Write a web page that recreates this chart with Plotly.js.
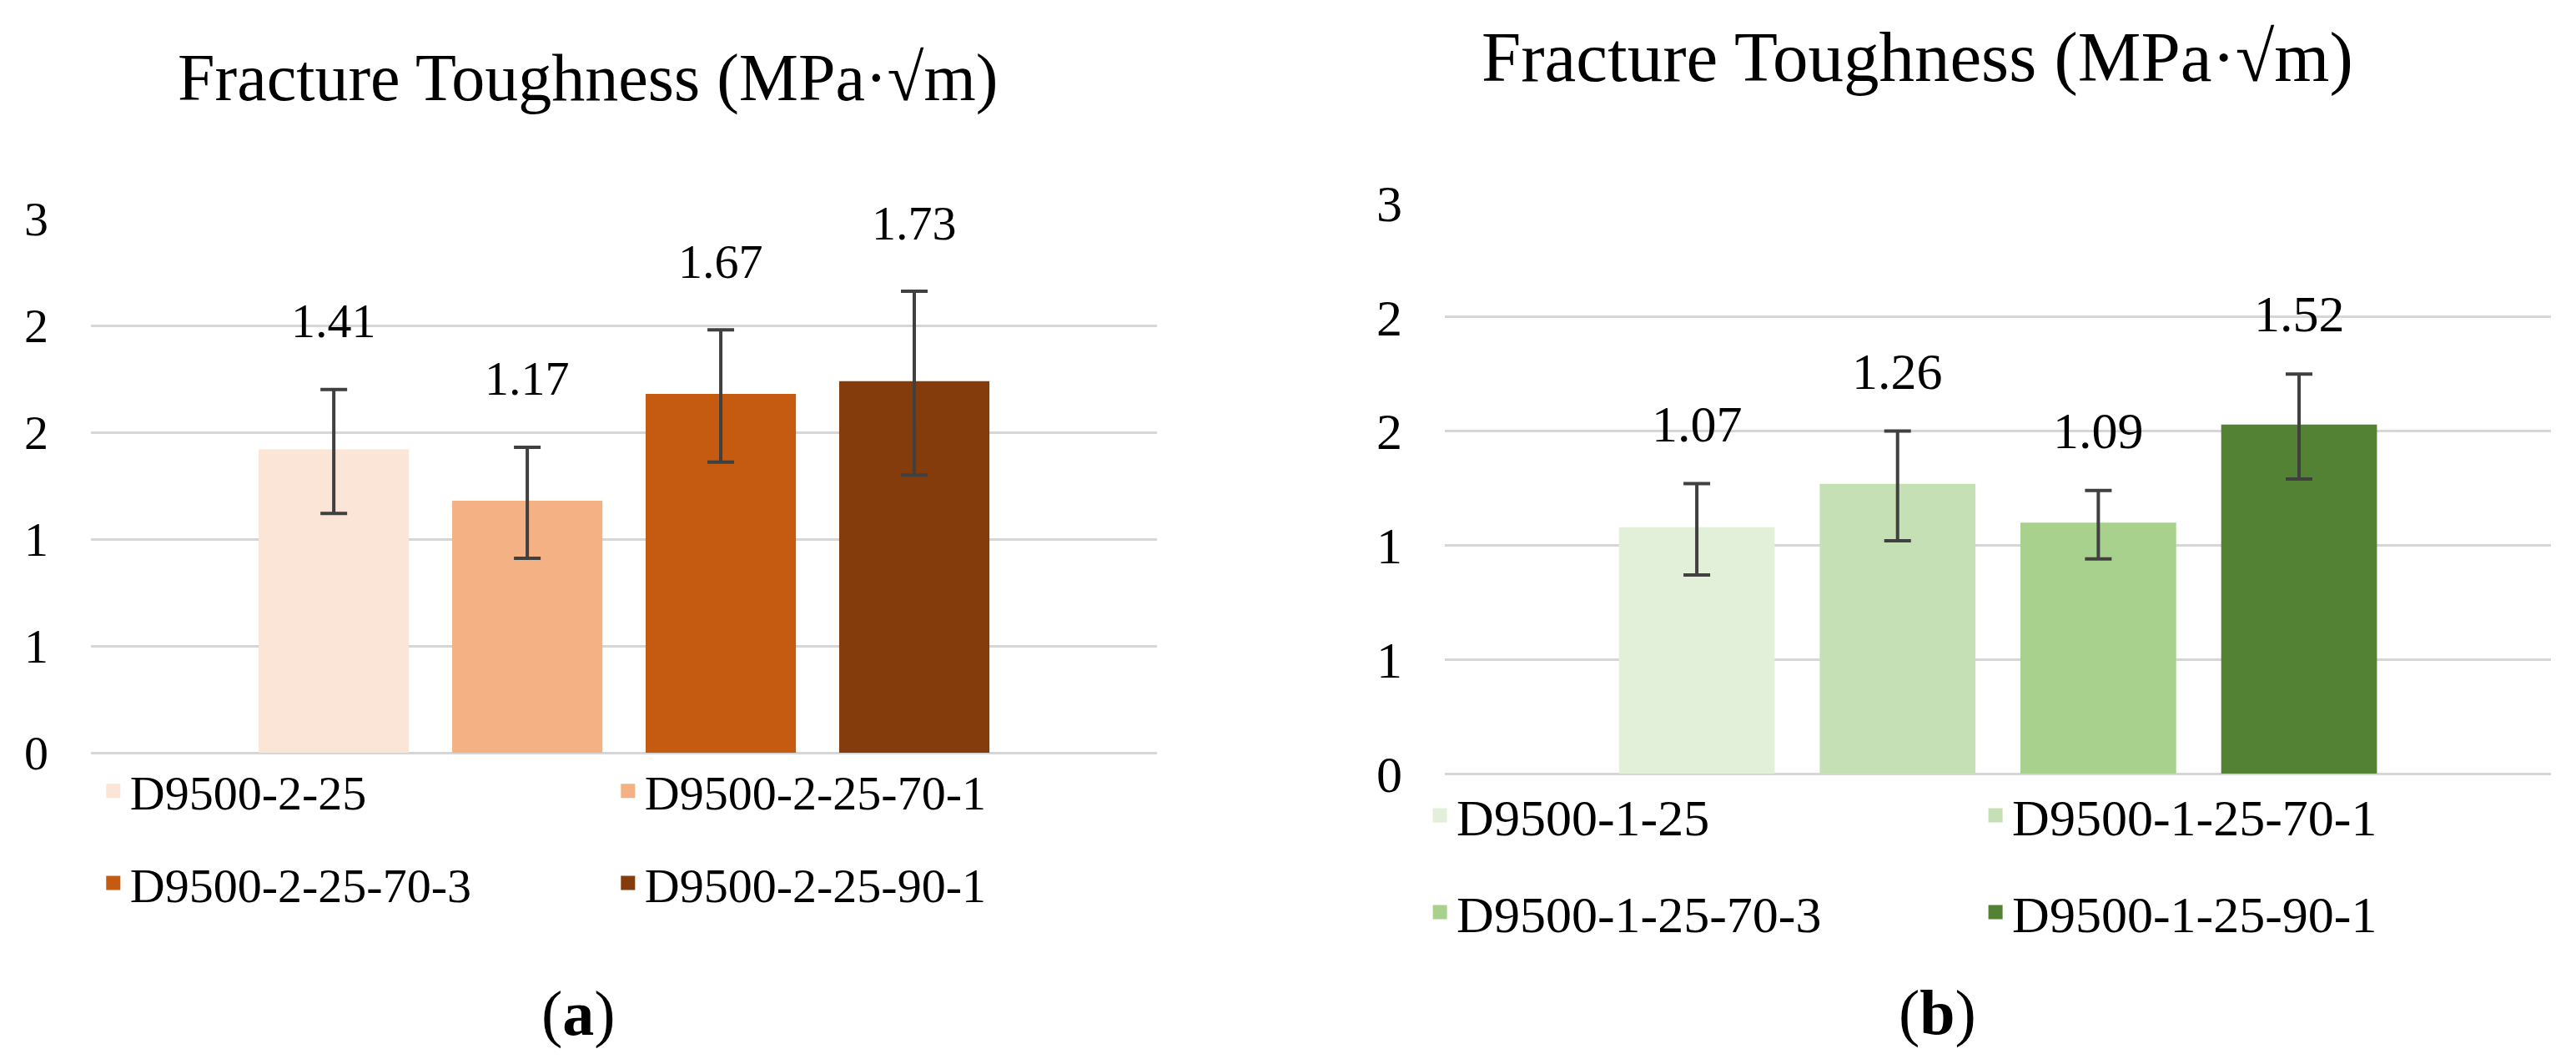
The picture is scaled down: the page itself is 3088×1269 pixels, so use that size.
<!DOCTYPE html>
<html>
<head>
<meta charset="utf-8">
<script src="https://cdn.plot.ly/plotly-3.0.1.min.js"></script>
<style>
  html, body { margin: 0; padding: 0; background: #ffffff; }
  #chart { width: 3088px; height: 1269px; }
</style>
</head>
<body>
<div id="chart"></div>
<script>
// ---------- data ----------
const seriesA = ['D9500-2-25', 'D9500-2-25-70-1', 'D9500-2-25-70-3', 'D9500-2-25-90-1'];
const valuesA = [1.41, 1.17, 1.67, 1.73];
const errorsA = [0.29, 0.26, 0.31, 0.43];

const seriesB = ['D9500-1-25', 'D9500-1-25-70-1', 'D9500-1-25-70-3', 'D9500-1-25-90-1'];
const valuesB = [1.07, 1.26, 1.09, 1.52];
const errorsB = [0.20, 0.24, 0.15, 0.23];

const yTickVals = [0, 0.5, 1, 1.5, 2, 2.5];
const yTickText = ['0', '1', '1', '2', '2', '3'];

const chartTitle = 'Fracture Toughness (MPa·√m)';
const panelLabels = ['(<b>a</b>)', '(<b>b</b>)'];

// ---------- styles ----------
const colorsA = ['#fbe5d6', '#f4b183', '#c55a11', '#843c0c'];
const colorsB = ['#e2f0d9', '#c5e0b4', '#a9d18e', '#548235'];
const FONT = "'Liberation Serif', 'Times New Roman', Times, serif";
const errColor = '#404040';

function makeTraces(series, values, errors, colors, xa, ya, legendRows) {
  return series.map((name, i) => ({
    type: 'bar',
    name: name,
    x: [name],
    y: [values[i]],
    xaxis: xa,
    yaxis: ya,
    legend: legendRows[Math.floor(i / 2)],
    marker: { color: colors[i], line: { color: colors[i], width: 5 } },
    error_y: { type: 'data', array: [errors[i]], visible: true, color: errColor, thickness: 4, width: 16 },
    hoverinfo: 'x+y'
  }));
}

const traces = [].concat(
  makeTraces(seriesA, valuesA, errorsA, colorsA, 'x', 'y', ['legend', 'legend2']),
  makeTraces(seriesB, valuesB, errorsB, colorsB, 'x2', 'y2', ['legend3', 'legend4'])
);

// value labels above error bars
const annotations = [];
seriesA.forEach((name, i) => annotations.push({
  x: name, y: valuesA[i] + errorsA[i], xref: 'x', yref: 'y',
  text: valuesA[i].toFixed(2), showarrow: false, yanchor: 'middle', yshift: 82,
  font: { family: FONT, size: 58, color: '#000' }
}));
seriesB.forEach((name, i) => annotations.push({
  x: name, y: valuesB[i] + errorsB[i], xref: 'x2', yref: 'y2',
  text: valuesB[i].toFixed(2), showarrow: false, yanchor: 'middle', yshift: 72,
  font: { family: FONT, size: 62, color: '#000' }
}));
// panel titles
annotations.push({ text: chartTitle, xref: 'paper', yref: 'paper', x: 0.2283, y: 0.9267,
  showarrow: false, xanchor: 'center', yanchor: 'middle', font: { family: FONT, size: 80, color: '#000' } });
annotations.push({ text: chartTitle, xref: 'paper', yref: 'paper', x: 0.7442, y: 0.9464,
  showarrow: false, xanchor: 'center', yanchor: 'middle', font: { family: FONT, size: 85, color: '#000' } });
// (a) / (b)
annotations.push({ text: panelLabels[0], xref: 'paper', yref: 'paper', x: 0.2245, y: 0.0426,
  showarrow: false, xanchor: 'center', yanchor: 'middle', font: { family: FONT, size: 76, color: '#000' } });
annotations.push({ text: panelLabels[1], xref: 'paper', yref: 'paper', x: 0.752, y: 0.0441,
  showarrow: false, xanchor: 'center', yanchor: 'middle', font: { family: FONT, size: 76, color: '#000' } });

function yAxis(domain, size, anchor) {
  return {
    domain: domain, anchor: anchor, range: [0, 2.5],
    tickmode: 'array', tickvals: yTickVals, ticktext: yTickText,
    showgrid: true, gridcolor: '#d6d6d6', gridwidth: 3,
    zeroline: true, zerolinecolor: '#d6d6d6', zerolinewidth: 3,
    showline: false, ticks: '', ticklabelstandoff: 50,
    tickfont: { family: FONT, size: size, color: '#000' },
    fixedrange: true
  };
}
function xAxis(domain, cats, anchor) {
  return {
    domain: domain, anchor: anchor, type: 'category',
    categoryorder: 'array', categoryarray: cats,
    range: [-1.255, 4.255], showticklabels: false, showgrid: false,
    zeroline: false, showline: false, ticks: '', fixedrange: true
  };
}
function legendRow(x, y, size, entry) {
  return {
    orientation: 'h', x: x, y: y, xanchor: 'left', yanchor: 'middle',
    xref: 'paper', yref: 'paper',
    bgcolor: 'rgba(0,0,0,0)', borderwidth: 0,
    entrywidth: entry, entrywidthmode: 'pixels',
    font: { family: FONT, size: size, color: '#000' },
    traceorder: 'normal', itemclick: false, itemdoubleclick: false
  };
}

const layout = {
  width: 3088, height: 1269,
  margin: { l: 0, r: 0, t: 0, b: 0 },
  paper_bgcolor: '#ffffff', plot_bgcolor: '#ffffff',
  barmode: 'overlay', bargap: 0.245,
  showlegend: true,
  xaxis: xAxis([0.0353, 0.4492], seriesA, 'y'),
  yaxis: yAxis([0.2892, 0.7935], 58, 'x'),
  xaxis2: xAxis([0.5609, 0.9903], seriesB, 'y2'),
  yaxis2: yAxis([0.2695, 0.8085], 62, 'x2'),
  legend: legendRow(0.0375, 0.2530, 58, 572),
  legend2: legendRow(0.0375, 0.1660, 58, 572),
  legend3: legendRow(0.5525, 0.2300, 62, 621),
  legend4: legendRow(0.5525, 0.1386, 62, 621),
  annotations: annotations
};

Plotly.newPlot('chart', traces, layout, { displayModeBar: false, staticPlot: true });
</script>
</body>
</html>
